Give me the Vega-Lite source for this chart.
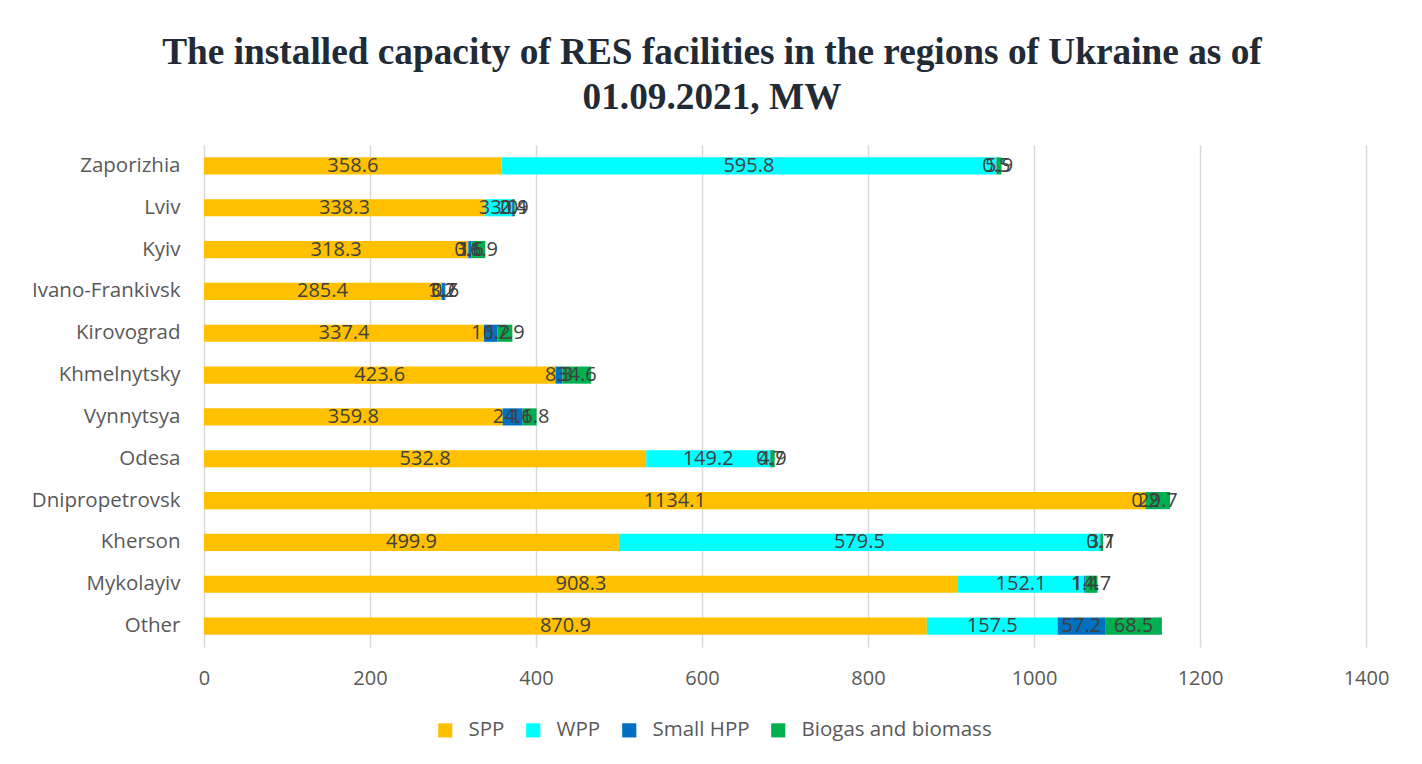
{
  "$schema": "https://vega.github.io/schema/vega-lite/v6.json",
  "width": 1162,
  "height": 502,
  "autosize": {"type": "none"},
  "padding": {"left": 204, "top": 145, "right": 56, "bottom": 117},
  "background": "white",
  "title": {
    "text": ["The installed capacity of RES facilities in the regions of Ukraine as of", "01.09.2021, MW"],
    "font": "Liberation Serif",
    "fontSize": 37.3,
    "fontWeight": "bold",
    "color": "#222A35",
    "anchor": "middle",
    "dx": -73,
    "offset": 28,
    "lineHeight": 45
  },
  "config": {
    "view": {"stroke": null},
    "font": "Open Sans"
  },
  "data": {
    "values": [
      {"region": "Zaporizhia", "source": "SPP", "order": 1, "value": 358.6},
      {"region": "Zaporizhia", "source": "WPP", "order": 2, "value": 595.8},
      {"region": "Zaporizhia", "source": "Small HPP", "order": 3, "value": 0.5},
      {"region": "Zaporizhia", "source": "Biogas and biomass", "order": 4, "value": 5.9},
      {"region": "Lviv", "source": "SPP", "order": 1, "value": 338.3},
      {"region": "Lviv", "source": "WPP", "order": 2, "value": 33.0},
      {"region": "Lviv", "source": "Small HPP", "order": 3, "value": 2.4},
      {"region": "Lviv", "source": "Biogas and biomass", "order": 4, "value": 0.9},
      {"region": "Kyiv", "source": "SPP", "order": 1, "value": 318.3},
      {"region": "Kyiv", "source": "WPP", "order": 2, "value": 0.1},
      {"region": "Kyiv", "source": "Small HPP", "order": 3, "value": 3.6},
      {"region": "Kyiv", "source": "Biogas and biomass", "order": 4, "value": 16.9},
      {"region": "Ivano-Frankivsk", "source": "SPP", "order": 1, "value": 285.4},
      {"region": "Ivano-Frankivsk", "source": "WPP", "order": 2, "value": 1.2},
      {"region": "Ivano-Frankivsk", "source": "Small HPP", "order": 3, "value": 3.7},
      {"region": "Ivano-Frankivsk", "source": "Biogas and biomass", "order": 4, "value": 0.6},
      {"region": "Kirovograd", "source": "SPP", "order": 1, "value": 337.4},
      {"region": "Kirovograd", "source": "Small HPP", "order": 3, "value": 16.2},
      {"region": "Kirovograd", "source": "Biogas and biomass", "order": 4, "value": 17.9},
      {"region": "Khmelnytsky", "source": "SPP", "order": 1, "value": 423.6},
      {"region": "Khmelnytsky", "source": "Small HPP", "order": 3, "value": 8.3},
      {"region": "Khmelnytsky", "source": "Biogas and biomass", "order": 4, "value": 34.6},
      {"region": "Vynnytsya", "source": "SPP", "order": 1, "value": 359.8},
      {"region": "Vynnytsya", "source": "Small HPP", "order": 3, "value": 24.1},
      {"region": "Vynnytsya", "source": "Biogas and biomass", "order": 4, "value": 16.8},
      {"region": "Odesa", "source": "SPP", "order": 1, "value": 532.8},
      {"region": "Odesa", "source": "WPP", "order": 2, "value": 149.2},
      {"region": "Odesa", "source": "Small HPP", "order": 3, "value": 0.7},
      {"region": "Odesa", "source": "Biogas and biomass", "order": 4, "value": 4.9},
      {"region": "Dnipropetrovsk", "source": "SPP", "order": 1, "value": 1134.1},
      {"region": "Dnipropetrovsk", "source": "Small HPP", "order": 3, "value": 0.2},
      {"region": "Dnipropetrovsk", "source": "Biogas and biomass", "order": 4, "value": 29.7},
      {"region": "Kherson", "source": "SPP", "order": 1, "value": 499.9},
      {"region": "Kherson", "source": "WPP", "order": 2, "value": 579.5},
      {"region": "Kherson", "source": "Small HPP", "order": 3, "value": 0.7},
      {"region": "Kherson", "source": "Biogas and biomass", "order": 4, "value": 3.1},
      {"region": "Mykolayiv", "source": "SPP", "order": 1, "value": 908.3},
      {"region": "Mykolayiv", "source": "WPP", "order": 2, "value": 152.1},
      {"region": "Mykolayiv", "source": "Small HPP", "order": 3, "value": 1.4},
      {"region": "Mykolayiv", "source": "Biogas and biomass", "order": 4, "value": 14.7},
      {"region": "Other", "source": "SPP", "order": 1, "value": 870.9},
      {"region": "Other", "source": "WPP", "order": 2, "value": 157.5},
      {"region": "Other", "source": "Small HPP", "order": 3, "value": 57.2},
      {"region": "Other", "source": "Biogas and biomass", "order": 4, "value": 68.5}
    ]
  },
  "transform": [
    {"stack": "value", "groupby": ["region"], "sort": [{"field": "order", "order": "ascending"}], "as": ["v0", "v1"]},
    {"calculate": "(datum.v0 + datum.v1) / 2", "as": "mid"}
  ],
  "encoding": {
    "y": {
      "field": "region",
      "type": "nominal",
      "sort": ["Zaporizhia", "Lviv", "Kyiv", "Ivano-Frankivsk", "Kirovograd", "Khmelnytsky", "Vynnytsya", "Odesa", "Dnipropetrovsk", "Kherson", "Mykolayiv", "Other"],
      "scale": {"paddingInner": 0.59, "paddingOuter": 0.295},
      "axis": {
        "title": null,
        "domain": false,
        "ticks": false,
        "labelFont": "Open Sans",
        "labelFontSize": 20.5,
        "labelColor": "#595959",
        "labelPadding": 24,
        "labelLimit": 300
      }
    }
  },
  "layer": [
    {
      "mark": {"type": "bar"},
      "encoding": {
        "x": {
          "field": "v0",
          "type": "quantitative",
          "scale": {"domain": [0, 1400], "nice": false},
          "axis": {
            "title": null,
            "values": [0, 200, 400, 600, 800, 1000, 1200, 1400],
            "format": "d",
            "labelFlush": false,
            "domain": false,
            "ticks": false,
            "grid": true,
            "gridColor": "#d9d9d9",
            "gridWidth": 1.5,
            "labelFont": "Open Sans",
            "labelFontSize": 20,
            "labelColor": "#595959",
            "labelPadding": 21
          }
        },
        "x2": {"field": "v1"},
        "color": {
          "field": "source",
          "type": "nominal",
          "sort": ["SPP", "WPP", "Small HPP", "Biogas and biomass"],
          "scale": {
            "domain": ["SPP", "WPP", "Small HPP", "Biogas and biomass"],
            "range": ["#FFC000", "#00FFFF", "#0070C0", "#00B050"]
          },
          "legend": {
            "title": null,
            "orient": "none",
            "direction": "horizontal",
            "legendX": 231,
            "legendY": 575,
            "padding": 0,
            "symbolType": "square",
            "symbolSize": 200,
            "symbolStrokeWidth": 0,
            "labelFont": "Open Sans",
            "labelFontSize": 20.5,
            "labelColor": "#595959",
            "labelOffset": 13,
            "labelLimit": 400,
            "columnPadding": 18
          }
        }
      }
    },
    {
      "mark": {"type": "text", "font": "Open Sans", "fontSize": 20, "color": "#404040"},
      "encoding": {
        "x": {"field": "mid", "type": "quantitative"},
        "text": {"field": "value", "type": "quantitative", "format": ".1f"}
      }
    }
  ]
}
